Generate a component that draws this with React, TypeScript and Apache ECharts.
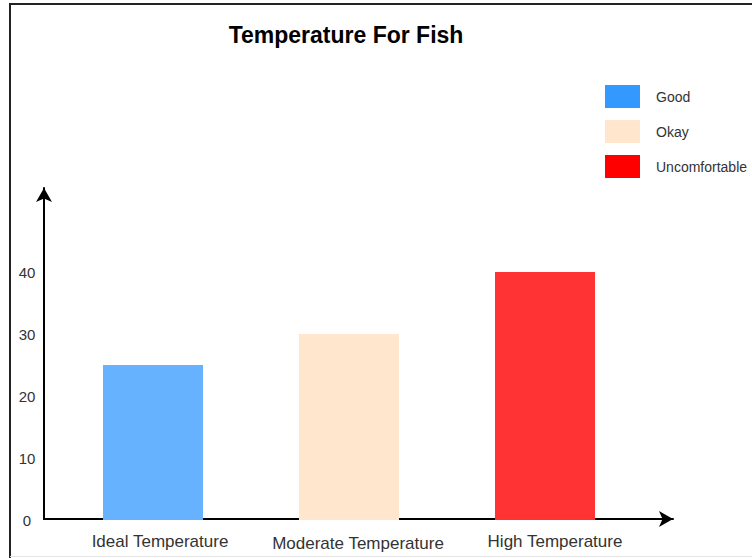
import React, { useEffect, useRef } from "react";
import * as echarts from "echarts";

const categories = ["Ideal Temperature", "Moderate Temperature", "High Temperature"];
const values = [25, 30, 40];
const seriesNames = ["Good", "Okay", "Uncomfortable"];
const yTicks = [0, 10, 20, 30, 40];

const barColors = ["#66B2FF", "#FFE6CC", "#FF3333"];
const legendColors = ["#3399FF", "#FFE6CC", "#FF0000"];
const labelStyles = [
  { padding: [0, 0, 0, 14] },
  { padding: [2, 0, 0, 18] },
  { padding: [0, 0, 0, 20] },
];

export default function App() {
  const ref = useRef<HTMLDivElement>(null);
  useEffect(() => {
    if (!ref.current) return;
    const chart = echarts.init(ref.current, null, { renderer: "svg" });
    const font = "Liberation Sans, Arial, Helvetica, sans-serif";
    const rich: any = {};
    labelStyles.forEach((s, i) => {
      rich["c" + i] = { fontSize: 17, color: "#333", fontFamily: font, ...s };
    });
    const series = seriesNames.map((name, i) => ({
      name,
      type: "bar",
      xAxisIndex: 0,
      yAxisIndex: 0,
      barWidth: 100,
      barGap: "-100%",
      itemStyle: { color: barColors[i] },
      data: categories.map((_, j) => (j === i ? values[j] : "-")),
    }));
    const arrowAxis = {
      gridIndex: 1,
      type: "value",
      min: 0,
      max: 1,
      axisLine: {
        show: true,
        symbol: ["none", "arrow"],
        symbolSize: [12, 14],
        lineStyle: { color: "#000", width: 2 },
      },
      axisTick: { show: false },
      axisLabel: { show: false },
      splitLine: { show: false },
    };
    chart.setOption({
      animation: false,
      backgroundColor: "#fff",
      title: {
        text: "Temperature For Fish",
        left: 341,
        top: 18,
        textAlign: "center",
        textStyle: { fontSize: 23, fontWeight: "bold", color: "#000", fontFamily: font },
      },
      legend: {
        orient: "vertical",
        left: 605,
        top: 85,
        padding: 0,
        icon: "rect",
        itemWidth: 35,
        itemHeight: 23,
        itemGap: 12,
        textStyle: { fontSize: 14, color: "#333", fontFamily: font, padding: [5, 0, 0, 11] },
        data: seriesNames.map((name, i) => ({ name, itemStyle: { color: legendColors[i] } })),
      },
      grid: [
        { left: 55, right: 109, top: 210, bottom: 38 },
        { left: 44, right: 79, top: 188, bottom: 39 },
      ],
      xAxis: [
        {
          gridIndex: 0,
          type: "category",
          data: categories,
          axisLine: { show: false },
          axisTick: { show: false },
          axisLabel: {
            interval: 0,
            margin: 13,
            fontSize: 17,
            color: "#333",
            fontFamily: font,
            formatter: (v: string, idx: number) => `{c${idx}|${v}}`,
            rich,
          },
        },
        { ...arrowAxis },
      ],
      yAxis: [
        {
          gridIndex: 0,
          type: "value",
          min: 0,
          max: 50,
          interval: 10,
          axisLine: { show: false },
          axisTick: { show: false },
          splitLine: { show: false },
          axisLabel: {
            margin: 28,
            align: "center",
            fontSize: 15,
            color: "#333",
            fontFamily: font,
            formatter: (v: number) => (yTicks.includes(v) ? String(v) : ""),
          },
        },
        { ...arrowAxis },
      ],
      graphic: [
        {
          type: "polyline",
          shape: { points: [[10, 558], [10, 4], [752, 4]] },
          style: { stroke: "#222", lineWidth: 2, fill: "none" },
          silent: true,
        },
        {
          type: "line",
          shape: { x1: 10, y1: 556.5, x2: 752, y2: 556.5 },
          style: { stroke: "#e6e6e6", lineWidth: 1 },
          silent: true,
        },
      ],
      series,
    });
    return () => chart.dispose();
  }, []);
  return (
    <div
      ref={ref}
      style={{ position: "absolute", left: 0, top: 0, width: 752, height: 558 }}
    />
  );
}
